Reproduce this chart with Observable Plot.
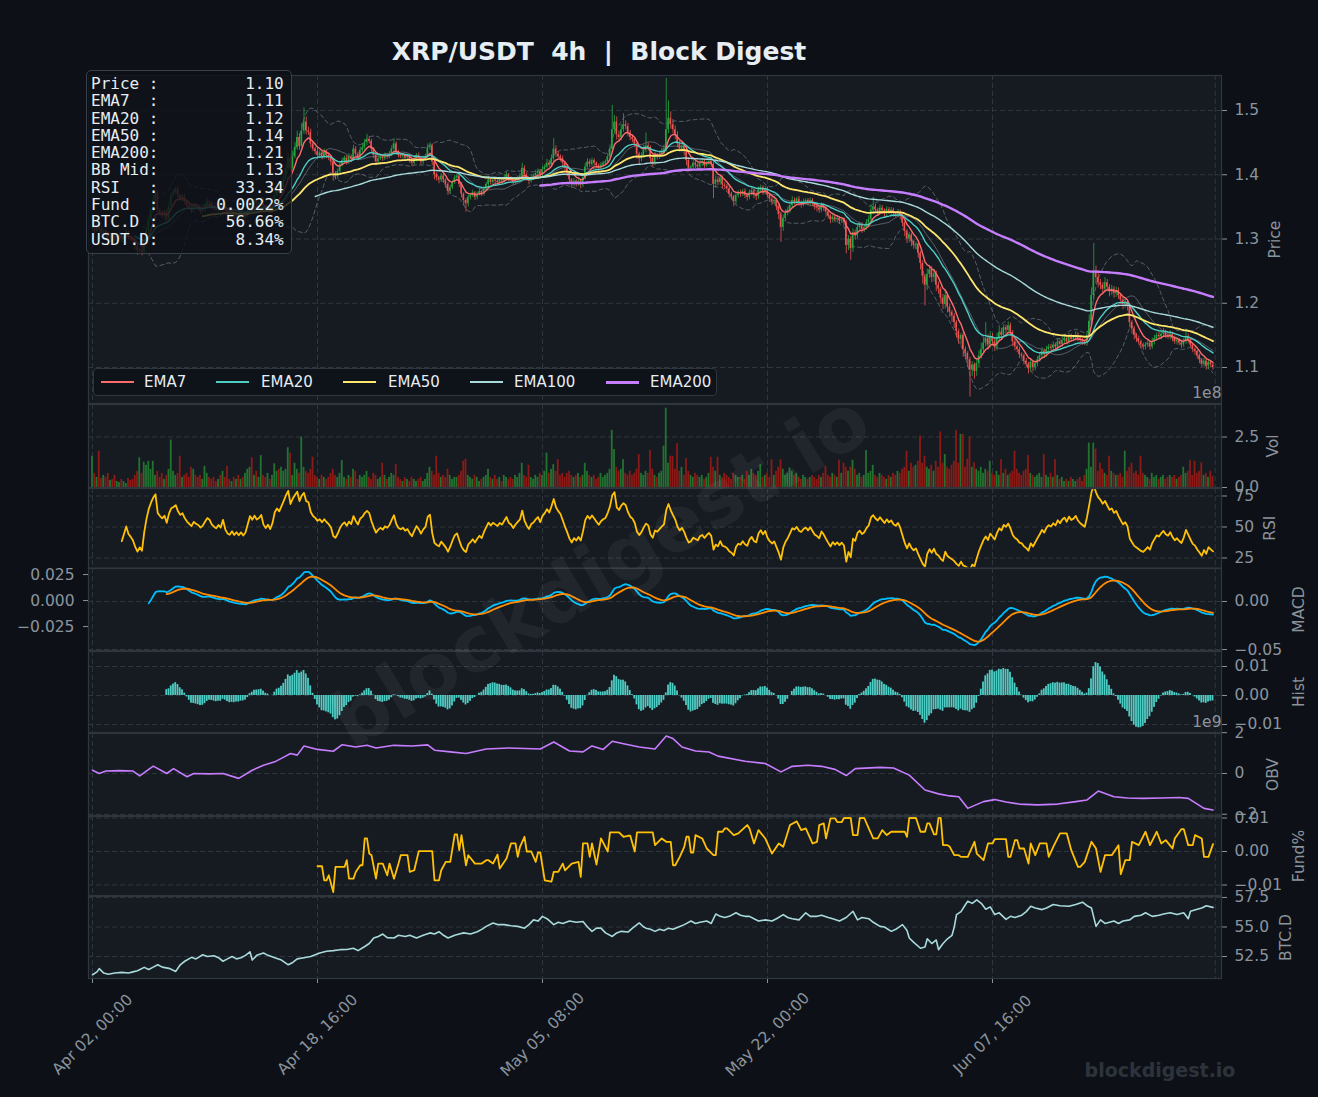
<!DOCTYPE html>
<html>
<head>
<meta charset="utf-8">
<script src="https://cdn.jsdelivr.net/npm/d3@7"></script>
<script src="https://cdn.jsdelivr.net/npm/@observablehq/plot@0.6"></script>
<style>
  html, body { margin: 0; padding: 0; background: #0d1117; }
  #root { position: relative; width: 1318px; height: 1097px; overflow: hidden; background: #0d1117; font-family: "DejaVu Sans", sans-serif; }
  #root svg { position: absolute; left: 0; overflow: visible; }
  .title { position: absolute; top: 37px; left: 0; width: 1198px; text-align: center; color: #e6edf3; font: bold 25px/30px "DejaVu Sans", sans-serif; white-space: pre; }
  .info { position: absolute; left: 86px; top: 70px; width: 206px; height: 184px; box-sizing: border-box; border: 1.5px solid #3a4049; border-radius: 5px; background: rgba(13,17,23,0.82); color: #e6edf3; font: 16px/17.3px "DejaVu Sans Mono", monospace; white-space: pre; padding: 4px 0 0 4px; }
  .legend { position: absolute; left: 93px; top: 368px; width: 624px; height: 28px; box-sizing: border-box; border: 1px solid #30363d; border-radius: 4px; background: rgba(13,17,23,0.85); color: #e6edf3; font: 15px "DejaVu Sans", sans-serif; }
  .legend .sw { position: absolute; top: 12px; width: 33px; height: 2px; }
  .legend .tx { position: absolute; top: 4px; line-height: 18px; }
  .wm { position: absolute; left: 600px; top: 570px; transform: translate(-50%, -50%) rotate(-31deg); font: bold 77px "DejaVu Sans", sans-serif; color: rgba(255,255,255,0.05); white-space: nowrap; pointer-events: none; }
  .wm2 { position: absolute; left: 1060px; width: 200px; top: 1059px; text-align: center; font: bold 19px "DejaVu Sans", sans-serif; color: #2d333b; }
</style>
</head>
<body>
<div id="root"></div>
<script>
// ---------------- DATA ----------------
const startUTC = "2025-04-02T00:00:00Z";      // first 4h candle
const xTickDates = ["2025-04-02T00:00:00Z", "2025-04-18T16:00:00Z", "2025-05-05T08:00:00Z", "2025-05-22T00:00:00Z", "2025-06-07T16:00:00Z"];
const title = "XRP/USDT  4h  |  Block Digest";

// 4h closes, one row per day (Apr 02 ... Jun 23) + last candle
const close = [
1.318,1.312,1.320,1.315,1.308,1.312, 1.305,1.300,1.306,1.302,1.296,1.301,
1.307,1.299,1.304,1.310,1.303,1.300, 1.296,1.288,1.281,1.284,1.279,1.295,
1.312,1.330,1.345,1.360,1.372,1.345, 1.340,1.336,1.342,1.330,1.352,1.368,
1.372,1.378,1.368,1.362,1.366,1.358, 1.352,1.348,1.344,1.352,1.349,1.347,
1.343,1.346,1.352,1.358,1.356,1.350, 1.347,1.345,1.349,1.346,1.356,1.344,
1.338,1.336,1.340,1.335,1.338,1.334, 1.337,1.333,1.336,1.345,1.356,1.352,
1.358,1.354,1.356,1.360,1.350,1.346, 1.350,1.345,1.352,1.368,1.375,1.372,
1.382,1.394,1.410,1.426,1.410,1.428, 1.442,1.458,1.444,1.468,1.482,1.468,
1.466,1.448,1.440,1.436,1.430,1.434, 1.428,1.435,1.430,1.426,1.420,1.402,
1.398,1.405,1.415,1.422,1.426,1.420, 1.428,1.424,1.440,1.432,1.426,1.438,
1.442,1.450,1.455,1.452,1.440,1.430, 1.420,1.425,1.428,1.425,1.430,1.428,
1.432,1.440,1.448,1.436,1.430,1.428, 1.430,1.426,1.428,1.422,1.418,1.424,
1.430,1.426,1.420,1.425,1.428,1.442, 1.445,1.420,1.400,1.395,1.392,1.398,
1.392,1.385,1.374,1.380,1.388,1.395, 1.398,1.385,1.370,1.360,1.355,1.365,
1.368,1.372,1.365,1.370,1.374,1.370, 1.378,1.385,1.392,1.388,1.392,1.390,
1.388,1.392,1.390,1.395,1.400,1.394, 1.392,1.388,1.392,1.395,1.398,1.410,
1.400,1.394,1.390,1.396,1.398,1.402, 1.405,1.400,1.408,1.412,1.418,1.415,
1.425,1.440,1.432,1.428,1.425,1.418, 1.410,1.402,1.392,1.385,1.390,1.386,
1.390,1.384,1.395,1.412,1.420,1.416, 1.422,1.418,1.414,1.410,1.415,1.418,
1.420,1.428,1.440,1.470,1.482,1.462, 1.458,1.470,1.478,1.475,1.465,1.458,
1.455,1.448,1.432,1.425,1.430,1.438, 1.445,1.442,1.425,1.418,1.430,1.428,
1.432,1.436,1.440,1.470,1.488,1.478, 1.470,1.462,1.448,1.440,1.445,1.436,
1.422,1.410,1.412,1.418,1.415,1.412, 1.418,1.420,1.414,1.418,1.421,1.416,
1.385,1.392,1.388,1.395,1.384,1.382, 1.378,1.370,1.366,1.358,1.368,1.372,
1.370,1.374,1.368,1.365,1.372,1.375, 1.368,1.366,1.376,1.380,1.374,1.378,
1.368,1.362,1.358,1.360,1.350,1.338, 1.318,1.332,1.340,1.345,1.352,1.360,
1.358,1.362,1.356,1.354,1.358,1.360, 1.356,1.360,1.355,1.350,1.348,1.345,
1.352,1.348,1.342,1.336,1.330,1.334, 1.330,1.332,1.328,1.330,1.326,1.290,
1.300,1.285,1.310,1.305,1.318,1.322, 1.315,1.318,1.325,1.330,1.345,1.350,
1.345,1.342,1.348,1.344,1.340,1.346, 1.342,1.345,1.340,1.338,1.342,1.336,
1.325,1.312,1.300,1.306,1.296,1.290, 1.292,1.278,1.262,1.242,1.228,1.245,
1.252,1.240,1.246,1.228,1.222,1.208, 1.198,1.212,1.194,1.186,1.180,1.170,
1.156,1.144,1.150,1.128,1.122,1.112, 1.096,1.104,1.094,1.106,1.118,1.128,
1.138,1.145,1.135,1.148,1.140,1.132, 1.145,1.155,1.150,1.162,1.158,1.165,
1.155,1.140,1.132,1.128,1.120,1.118, 1.110,1.105,1.098,1.108,1.100,1.106,
1.112,1.118,1.125,1.120,1.128,1.132, 1.130,1.135,1.132,1.140,1.136,1.142,
1.145,1.140,1.148,1.144,1.146,1.150, 1.145,1.142,1.140,1.138,1.150,1.172,
1.212,1.250,1.240,1.232,1.228,1.222, 1.232,1.225,1.218,1.222,1.215,1.220,
1.212,1.205,1.198,1.202,1.195,1.170, 1.160,1.150,1.145,1.140,1.135,1.132,
1.135,1.138,1.132,1.140,1.145,1.150, 1.148,1.152,1.155,1.150,1.148,1.152,
1.145,1.140,1.142,1.138,1.135,1.140, 1.148,1.142,1.135,1.128,1.125,1.118,
1.112,1.105,1.110,1.102,1.108,1.104,
1.100
];

// upper / lower wick beyond the body, in thousandths of a dollar
const upWick = [
4,3,5,2,4,3, 3,5,2,4,3,2, 4,2,3,5,3,2, 3,2,4,3,2,6, 5,6,4,7,8,3, 3,4,2,5,6,4,
5,3,4,2,3,4, 3,2,4,3,2,3, 2,4,3,5,3,2, 3,2,4,3,6,2, 2,3,4,2,3,2, 3,2,4,5,4,3,
4,3,2,4,3,2, 3,4,5,6,4,3, 5,6,7,8,6,9, 8,10,6,12,22,8, 6,5,4,3,5,4, 4,5,3,4,3,2,
3,4,5,4,3,4, 5,3,6,4,3,5, 6,5,8,4,3,2, 3,4,3,2,4,3, 4,5,8,3,2,3, 3,2,4,3,2,4,
3,4,2,3,4,6, 5,3,2,3,2,4, 3,2,3,4,3,4, 3,2,3,2,3,4, 3,4,2,3,4,2, 4,3,5,3,4,3,
3,4,3,5,4,2, 3,2,4,3,4,8, 4,3,2,4,3,5, 4,3,5,4,6,4, 6,16,5,4,3,4, 3,4,3,2,4,3,
3,2,5,6,5,4, 4,3,2,3,4,3, 3,5,6,38,10,8, 6,8,17,6,5,4, 4,3,2,3,4,8, 20,5,3,4,5,3,
4,5,6,80,27,10, 8,6,5,4,6,4, 3,4,3,5,4,3, 4,3,4,3,4,3, 4,6,5,4,3,4, 3,4,3,2,4,3,
4,3,4,3,4,5, 3,4,5,4,3,4, 3,2,3,4,2,3, 4,5,6,5,4,6, 4,3,4,3,4,3, 3,4,3,2,3,3,
4,3,2,3,2,4, 3,4,3,2,3,3, 5,4,6,4,5,4, 3,4,5,6,8,15, 4,3,5,4,3,4, 3,4,3,2,4,3,
3,2,3,4,3,2, 3,2,3,4,3,8, 6,5,7,4,5,3, 6,8,4,5,3,4, 3,4,3,5,4,3, 4,5,3,6,8,10,
8,25,6,8,5,4, 8,10,6,5,4,6, 4,3,4,3,4,3, 3,4,3,5,3,4, 5,4,6,4,5,4, 4,5,3,5,4,5,
4,3,5,4,3,6, 4,3,4,3,6,10, 12,43,8,6,5,4, 8,5,4,6,4,5, 4,3,4,5,3,2, 3,4,3,4,3,3,
4,5,3,6,5,4, 5,4,6,3,4,5, 3,4,5,3,4,5, 12,4,3,2,3,2, 3,2,4,3,4,3,
2
];
const dnWick = [
3,4,2,5,3,4, 4,3,5,3,4,3, 3,5,4,2,4,3, 4,5,6,4,5,3, 3,4,3,4,3,6, 5,4,6,5,3,3,
3,4,5,3,4,5, 4,3,5,4,3,4, 5,3,4,3,4,5, 4,3,5,4,3,6, 4,5,3,4,5,4, 3,4,5,3,3,4,
3,4,3,2,5,4, 3,5,4,3,3,4, 3,4,3,4,5,3, 3,4,6,4,5,6, 5,6,4,5,6,4, 5,4,5,4,6,12,
6,5,4,3,4,5, 4,5,3,5,4,3, 3,4,5,4,6,5, 6,4,3,4,3,4, 3,4,3,5,4,3, 4,5,3,4,5,3,
4,3,5,4,3,4, 4,6,8,5,6,4, 5,6,6,4,3,3, 4,5,6,8,13,5, 4,3,5,4,3,4, 3,4,3,4,3,4,
4,3,5,3,4,5, 4,5,3,4,3,4, 5,4,6,3,4,3, 4,5,3,4,3,4, 3,4,5,4,5,6, 6,5,7,6,4,5,
4,6,4,3,4,5, 4,5,4,6,4,3, 4,3,4,5,6,8, 6,5,4,5,6,5, 5,6,8,10,5,4, 4,5,6,6,4,5,
4,3,4,5,6,7, 6,7,6,5,6,7, 8,6,5,4,5,4, 4,5,4,3,4,5, 22,6,5,4,6,5, 5,6,5,8,5,4,
5,4,5,6,4,5, 5,6,4,5,6,5, 4,5,6,5,6,8, 23,6,5,4,5,4, 5,4,5,6,4,5, 4,5,4,5,6,5,
4,5,6,5,6,5, 5,4,5,4,5,13, 8,18,6,7,5,4, 6,5,4,5,4,3, 5,6,4,5,6,5, 4,5,6,5,4,6,
6,8,7,6,8,6, 7,8,10,12,32,8, 6,8,7,10,8,9, 8,7,9,8,10,9, 10,8,9,12,10,12, 42,10,12,8,6,5,
5,6,8,5,6,7, 6,5,7,5,6,5, 6,7,6,5,6,5, 6,5,8,5,7,5, 5,4,5,6,4,5, 5,4,5,4,5,4,
4,5,4,5,4,5, 5,4,5,4,5,4, 6,8,10,8,7,8, 6,7,8,6,7,6, 6,7,8,6,7,8, 8,7,6,5,6,5,
5,4,5,4,5,4, 4,5,4,5,4,5, 5,4,5,4,5,4, 4,5,4,5,6,5, 6,5,4,6,5,4,
4
];

// volume per candle (x 1e8)
const vol = [
1.55,0.7,0.5,1.8,0.45,0.6, 0.5,0.7,0.35,0.4,0.6,0.3, 0.25,0.4,0.3,0.2,0.45,0.35,
0.4,0.6,0.8,1.47,0.7,1.25, 1.1,1.3,0.9,1.3,0.6,0.8, 0.5,0.7,0.4,0.6,0.9,2.35,
0.8,0.6,0.7,1.55,0.5,0.6, 0.7,0.5,1.0,0.9,0.6,0.5, 0.6,0.4,1.05,0.7,0.5,0.4,
0.5,0.3,0.4,0.6,0.8,0.5, 1.05,0.4,0.3,0.5,0.4,0.6, 0.4,0.5,0.7,0.9,1.0,1.47,
0.6,0.8,0.5,1.58,0.6,0.5, 0.7,0.4,0.6,1.17,0.8,0.9, 1.0,0.8,0.9,1.97,1.7,0.6,
1.2,0.9,0.7,2.5,1.0,0.8, 0.7,0.9,1.5,0.6,0.5,0.4, 0.6,0.5,0.4,0.5,0.7,0.9,
0.6,0.5,0.7,1.33,0.5,0.4, 0.6,0.5,0.9,0.8,0.4,0.6, 0.5,0.6,0.8,0.5,0.4,0.7,
0.6,0.4,0.5,1.2,0.6,0.4, 0.5,0.7,0.6,1.13,0.5,0.4, 0.3,0.5,0.4,0.3,0.5,0.4,
0.3,0.4,0.5,0.3,0.4,0.7, 1.0,0.8,0.6,1.55,0.7,0.5, 0.6,0.5,0.9,0.6,0.4,0.5,
0.5,0.6,0.8,1.3,1.4,0.6, 0.5,0.4,0.6,0.5,0.3,0.4, 0.5,0.6,0.9,0.5,0.4,0.6,
0.4,0.5,0.3,0.6,0.5,0.4, 0.5,0.4,0.6,0.5,0.7,1.2, 0.6,0.5,1.1,0.5,0.4,0.6,
0.5,0.7,0.6,0.8,1.7,0.7, 0.9,1.13,0.8,1.38,0.6,0.7, 0.5,0.7,0.8,0.6,0.5,0.6,
0.7,0.5,0.6,1.2,0.8,0.6, 0.5,0.6,0.4,0.5,0.7,0.5, 0.6,0.7,0.9,2.83,1.88,1.0,
0.8,0.9,1.38,0.7,0.6,0.8, 0.6,0.7,0.9,1.63,0.7,0.6, 0.8,0.7,1.83,0.9,0.6,0.5,
0.7,0.8,2.05,3.93,1.2,1.55, 1.55,0.9,2.17,0.8,1.0,0.6, 1.43,0.8,0.6,0.5,0.7,0.6,
0.5,0.6,0.4,0.5,0.7,1.5, 1.0,0.8,1.5,0.6,0.5,0.7, 0.6,0.5,0.4,0.7,0.6,0.5,
0.5,0.6,0.4,0.8,0.6,0.9, 0.7,0.6,0.8,1.13,0.5,0.6, 0.7,0.5,1.38,0.6,0.8,1.0,
1.38,0.9,0.6,0.7,0.97,0.8, 0.6,0.7,0.5,0.4,0.6,0.5, 0.4,0.5,0.6,0.5,0.4,0.6,
0.5,0.7,1.05,0.6,0.5,0.7, 0.6,0.5,1.35,0.7,1.2,1.0, 0.8,1.0,1.35,0.9,0.6,0.7,
0.5,0.6,1.83,0.7,0.8,1.1, 0.6,0.5,0.7,0.6,0.5,0.4, 0.6,0.5,0.7,0.6,0.8,0.7,
0.9,1.0,1.8,0.8,1.2,1.0, 1.1,1.3,2.55,1.2,1.55,1.0, 0.9,1.1,0.8,1.3,1.0,2.75,
1.2,1.63,1.0,0.9,1.1,1.3, 2.83,1.2,2.63,2.63,1.0,1.4, 2.5,1.0,1.22,0.9,0.8,1.0,
0.7,0.9,0.8,1.3,0.7,0.6, 0.8,0.6,1.38,0.7,0.9,0.6, 0.7,0.8,1.8,0.9,0.7,0.6,
0.8,0.9,1.58,0.7,0.6,0.5, 0.6,0.7,0.5,1.63,0.6,0.5, 0.7,0.5,1.38,0.6,0.4,0.5,
0.3,0.4,0.3,0.5,0.4,0.3, 0.4,0.5,0.3,0.6,0.9,2.2, 1.0,2.2,1.9,0.8,1.2,0.9,
0.7,0.6,1.55,0.8,0.7,0.6, 0.6,0.7,0.5,1.8,0.8,1.0, 1.2,0.7,0.8,0.6,1.55,0.7,
0.6,0.5,0.4,0.7,0.5,0.6, 0.4,0.5,0.6,0.4,0.5,0.6, 0.5,0.6,0.4,0.5,0.6,1.0,
0.7,0.8,1.33,0.6,1.3,0.7, 0.8,1.22,0.6,0.7,0.5,0.8,
0.55
];

// OBV (x 1e9) at [candle index, value]
const obv = [[0,0.16],[3,0.0],[6,0.12],[12,0.14],[18,0.12],[21,-0.12],[27,0.36],[33,0.0],[36,0.24],[42,-0.16],[45,0.0],[52,-0.02],[58,0.0],[65,-0.24],[71,0.16],[76,0.4],[81,0.57],[85,0.8],[88,0.98],[91,0.9],[94,1.35],[100,1.18],[107,1.09],[111,1.41],[117,1.3],[122,1.38],[126,1.25],[134,1.38],[142,1.35],[149,1.4],[152,1.14],[159,1.06],[166,0.98],[175,1.2],[185,1.25],[199,1.2],[205,1.54],[212,1.1],[218,1.06],[222,1.35],[227,1.18],[231,1.58],[236,1.46],[243,1.3],[250,1.2],[255,1.84],[258,1.71],[262,1.3],[268,1.1],[274,1.05],[278,0.85],[290,0.6],[299,0.49],[306,0.08],[311,0.35],[318,0.4],[324,0.35],[330,0.2],[335,-0.1],[339,0.24],[350,0.3],[356,0.27],[363,-0.08],[370,-0.81],[376,-1.0],[381,-1.1],[385,-1.14],[389,-1.71],[396,-1.38],[401,-1.28],[406,-1.4],[412,-1.5],[420,-1.54],[429,-1.5],[437,-1.38],[442,-1.3],[447,-0.86],[454,-1.14],[460,-1.2],[467,-1.22],[475,-1.2],[483,-1.18],[487,-1.22],[494,-1.71],[498,-1.79]];

// Funding rate (units of 0.0001 %) at [candle index, value]
const fund = [[100,-44],[102,-44],[103,-86],[104,-86],[105,-71],[107,-121],[108,-46],[112,-46],[113,-26],[114,-81],[116,-81],[117,-61],[119,-41],[120,-41],[121,39],[122,39],[123,-6],[124,-11],[126,-81],[127,-36],[129,-36],[131,-71],[132,-36],[134,-81],[136,-36],[137,-11],[140,-11],[141,-61],[143,-56],[145,1],[151,1],[152,-86],[154,-86],[155,-56],[157,-31],[159,-31],[161,51],[162,51],[163,4],[164,49],[166,-41],[167,-11],[170,-36],[173,-36],[175,-26],[176,-26],[178,-36],[180,-9],[181,-51],[184,-21],[186,24],[188,24],[189,-16],[190,14],[192,44],[193,0],[195,0],[197,-31],[198,-3],[199,-3],[201,-86],[204,-90],[205,-61],[207,-61],[209,-36],[210,-56],[213,-36],[216,-31],[217,-76],[218,24],[220,24],[221,-16],[222,24],[224,-39],[226,39],[229,0],[230,57],[234,57],[236,44],[238,47],[239,47],[241,0],[242,57],[249,57],[250,19],[253,39],[255,29],[257,29],[258,-41],[259,-41],[261,-16],[263,14],[264,44],[265,44],[266,-3],[267,-3],[268,49],[271,39],[273,9],[276,-11],[277,-11],[278,59],[280,59],[281,69],[282,69],[285,49],[287,54],[291,79],[292,69],[294,24],[296,64],[299,39],[302,-6],[305,24],[307,14],[310,79],[313,90],[315,64],[317,69],[320,24],[322,29],[323,79],[325,84],[326,39],[328,99],[330,99],[331,88],[333,88],[334,100],[337,100],[338,49],[340,49],[341,100],[343,100],[345,69],[347,39],[349,39],[351,64],[353,49],[355,59],[361,59],[362,44],[363,100],[366,100],[368,59],[370,59],[371,84],[372,84],[374,51],[375,51],[376,100],[377,100],[378,19],[380,19],[381,14],[383,-11],[385,-11],[386,-16],[389,-16],[392,29],[393,-6],[396,-26],[398,24],[400,24],[401,37],[406,37],[407,-16],[408,-16],[410,34],[411,34],[412,9],[414,9],[416,-36],[417,24],[419,-11],[421,24],[424,24],[425,-16],[427,14],[430,54],[433,54],[435,4],[438,-46],[439,-46],[441,-31],[444,29],[446,9],[448,-61],[450,-11],[453,-11],[456,19],[457,-68],[459,-26],[461,-26],[462,29],[465,19],[468,59],[470,19],[473,59],[475,24],[477,34],[480,9],[481,39],[484,67],[485,67],[487,19],[489,19],[490,49],[493,39],[494,-16],[496,-16],[498,22]];

// BTC dominance (%) at [candle index, value]
const btcd = [[0,50.96],[2,51.2],[3,51.47],[5,51.1],[7,51.0],[10,51.1],[13,51.16],[16,51.1],[18,51.2],[20,51.3],[23,51.58],[25,51.4],[27,51.6],[29,51.8],[31,51.6],[34,51.5],[37,51.24],[39,51.8],[41,52.1],[44,52.43],[46,52.3],[49,52.65],[51,52.5],[54,52.57],[56,52.4],[58,52.1],[60,52.3],[62,52.5],[64,52.3],[66,52.4],[68,52.6],[70,52.9],[71,52.2],[73,52.6],[76,52.8],[78,52.6],[81,52.4],[84,52.2],[87,51.8],[89,52.0],[91,52.3],[94,52.4],[97,52.5],[99,52.65],[101,52.8],[104,52.94],[107,53.0],[110,53.08],[113,53.1],[116,53.2],[118,53.0],[121,53.35],[123,53.6],[125,54.07],[127,54.2],[129,54.4],[131,54.1],[134,54.07],[136,54.3],[139,54.2],[141,54.3],[144,54.07],[147,54.3],[150,54.5],[152,54.4],[154,54.6],[156,54.3],[158,54.07],[161,54.3],[163,54.4],[165,54.5],[168,54.4],[171,54.6],[173,54.8],[175,55.05],[178,55.34],[180,55.2],[183,55.2],[186,55.1],[189,55.05],[192,54.9],[194,55.2],[196,55.6],[198,55.5],[200,55.9],[202,55.7],[205,55.2],[207,55.4],[209,55.3],[212,55.5],[215,55.4],[218,55.46],[220,55.0],[222,54.63],[224,54.9],[226,54.9],[228,54.5],[231,54.2],[233,54.5],[235,54.63],[238,54.57],[240,54.9],[243,55.34],[245,55.0],[246,54.9],[248,54.8],[250,54.63],[252,54.8],[254,54.7],[256,54.9],[258,54.8],[261,55.05],[263,55.2],[266,55.5],[268,55.3],[270,55.4],[273,55.5],[275,55.3],[277,56.1],[279,55.9],[281,55.8],[283,55.9],[286,56.2],[288,56.0],[290,55.9],[292,55.9],[294,55.7],[296,55.5],[299,55.6],[302,55.5],[304,55.7],[307,56.05],[309,55.8],[311,55.7],[314,55.6],[317,56.2],[319,55.9],[322,55.9],[324,56.0],[327,55.8],[329,55.7],[332,55.5],[335,55.8],[338,56.33],[340,55.6],[342,55.8],[345,55.7],[347,55.4],[350,55.05],[352,55.0],[355,54.63],[357,54.8],[360,55.2],[362,54.7],[363,54.07],[365,53.7],[368,53.2],[370,53.3],[371,54.0],[373,53.6],[375,53.9],[376,53.08],[378,53.6],[380,54.0],[382,54.3],[383,55.0],[384,56.05],[386,56.3],[388,56.9],[389,57.18],[391,57.0],[393,57.3],[395,57.0],[397,56.5],[399,56.7],[401,56.05],[403,56.2],[406,55.65],[408,55.9],[410,55.8],[413,56.0],[415,56.3],[417,56.75],[419,56.6],[422,56.47],[424,56.6],[427,56.9],[430,56.8],[434,56.75],[437,56.9],[440,57.1],[442,56.8],[444,56.6],[446,55.05],[448,55.6],[450,55.3],[452,55.4],[454,55.5],[456,55.3],[458,55.5],[461,55.6],[463,55.9],[466,56.0],[468,56.2],[471,55.9],[474,56.0],[476,56.1],[479,56.2],[482,56.05],[485,56.2],[487,55.7],[488,56.33],[491,56.5],[493,56.6],[495,56.8],[497,56.7],[498,56.66]];

// info panel text
const infoLabels = ["Price", "EMA7", "EMA20", "EMA50", "EMA200", "BB Mid", "RSI", "Fund", "BTC.D", "USDT.D"];
const infoValues = ["1.10", "1.11", "1.12", "1.14", "1.21", "1.13", "33.34", "0.0022%", "56.66%", "8.34%"];
const emaSpans = [7, 20, 50, 100, 200];

// axis ticks
const priceTicks = [1.1, 1.2, 1.3, 1.4, 1.5];
const volTicks = [0, 2.5];
const rsiTicks = [25, 50, 75];
const macdTicks = [-0.05, 0];
const macdLeftTicks = [-0.025, 0, 0.025];
const histTicks = [-0.01, 0, 0.01];
const obvTicks = [-2, 0, 2];
const fundTicks = [-0.01, 0, 0.01];
const btcdTicks = [52.5, 55, 57.5];

// ---------------- STYLE / LAYOUT ----------------
const PANEL = "#161b22", GRID = "#30363d", SPINE = "#30363d", TICK = "#8b949e";
const UP = "#26a641", DN = "#ef5350", VUP = "#237330", VDN = "#8c1a16";
const emaColor = {7: "#ff6b6b", 20: "#4ecdc4", 50: "#ffe66d", 100: "#a8dadc", 200: "#c77dff"};
const emaWidth = {7: 1.4, 20: 1.4, 50: 1.8, 100: 1.4, 200: 2.4};
const legendSwatchLeft = [7, 122, 249, 376, 512];   // px inside the legend box
const legendTextLeft = [50, 167, 294, 420, 556];
const FS = 15.5;
const layout = {
  price: {top: 75,  h: 328, domain: [1.044, 1.5545]},
  vol:   {top: 403.5, h: 83, domain: [0, 4.11]},
  rsi:   {top: 487.5, h: 79.5, domain: [16.9, 81.05]},
  macd:  {top: 568, h: 82, domain: [-0.051, 0.0344], left: [-0.048, 0.0308]},
  hist:  {top: 651, h: 81, domain: [-0.01276, 0.01517]},
  obv:   {top: 733, h: 82, domain: [-2.06, 1.96]},
  fund:  {top: 816, h: 79, domain: [-0.01313, 0.01045]},
  btcd:  {top: 896, h: 82, domain: [50.64, 57.58]}
};

// ---------------- DERIVED ----------------
const N = close.length;
if ([upWick.length, dnWick.length, vol.length].some(n => n !== N)) {
  document.body.insertAdjacentHTML("afterbegin", `<pre style="color:red">length mismatch ${N} ${upWick.length} ${dnWick.length} ${vol.length}</pre>`);
}
const HOUR = 3600e3;
const t0 = Date.parse(startUTC);
const T = i => new Date(t0 + i * 4 * HOUR);
const xDomain = [new Date(t0 - 7.1 * HOUR), new Date(t0 + 2007.1 * HOUR)];
const xTicks = xTickDates.map(s => new Date(s));
const xGrid = [...xTicks, T(499)];

const candles = close.map((c, i) => {
  const o = i === 0 ? c : close[i - 1];
  return {t: T(i), o, c, hi: Math.max(o, c) + upWick[i] / 1000, lo: Math.min(o, c) - dnWick[i] / 1000, up: c >= o, vol: vol[i] ?? 0};
});

function ema(src, n, minP = n) {
  const a = 2 / (n + 1); let e = null, cnt = 0;
  return src.map(v => {
    if (v == null) return null;
    e = e == null ? v : a * v + (1 - a) * e; cnt++;
    return cnt >= minP ? e : null;
  });
}
const series = arr => arr.map((v, i) => ({t: T(i), v: v == null ? NaN : v}));
const emas = Object.fromEntries(emaSpans.map(n => [n, series(ema(close, n))]));
const sma20 = close.map((_, i) => i < 19 ? null : d3.mean(close.slice(i - 19, i + 1)));
const sd20 = close.map((_, i) => i < 19 ? null : d3.deviation(close.slice(i - 19, i + 1)));
const bbU = series(sma20.map((m, i) => m == null ? null : m + 2 * sd20[i]));
const bbL = series(sma20.map((m, i) => m == null ? null : m - 2 * sd20[i]));
const bbM = series(sma20);

// RSI(14), exponentially weighted (adjusted) averages
const rsiArr = [null];
{ const a = 1 / 14; let ng = 0, nl = 0, den = 0;
  for (let i = 1; i < N; i++) {
    const d = close[i] - close[i - 1];
    ng = Math.max(d, 0) + (1 - a) * ng; nl = Math.max(-d, 0) + (1 - a) * nl; den = 1 + (1 - a) * den;
    const g = ng / den, l = nl / den;
    rsiArr.push(i >= 13 ? (l === 0 ? 100 : 100 - 100 / (1 + g / l)) : null);
  } }
const rsi = series(rsiArr);

const e12 = ema(close, 12), e26 = ema(close, 26);
const macdArr = close.map((_, i) => e12[i] == null || e26[i] == null ? null : e12[i] - e26[i]);
const sigArr = ema(macdArr, 9);
const macd = series(macdArr), signal = series(sigArr);
const hist = macdArr.map((m, i) => ({t: T(i), v: m == null || sigArr[i] == null ? null : m - sigArr[i]})).filter(d => d.v != null);

const obvS = obv.map(([i, v]) => ({t: T(i), v}));
const fundS = fund.map(([i, v]) => ({t: T(i), v: v / 10000}));
const btcdS = btcd.map(([i, v]) => ({t: T(i), v}));

// ---------------- RENDER ----------------
const root = document.getElementById("root");
const style = {background: "transparent", color: TICK, fontFamily: "DejaVu Sans, sans-serif", fontSize: FS + "px", overflow: "visible"};
const dash = "5,3";
const base = yt => [
  Plot.frame({fill: PANEL, stroke: null}),
  Plot.gridY(yt, {stroke: GRID, strokeOpacity: 1, strokeDasharray: dash, strokeWidth: 1}),
  Plot.gridX(xGrid, {stroke: GRID, strokeOpacity: 1, strokeDasharray: dash, strokeWidth: 1})
];
const yAxis = (yt, fmt) => Plot.axisY(yt, {anchor: "right", tickFormat: fmt, tickSize: 5, tickPadding: 8, color: TICK, fontSize: FS, label: null});
const yLabel = (text, dx) => Plot.text([text], {frameAnchor: "right", dx, rotate: -90, textAnchor: "middle", lineAnchor: "middle", fill: TICK, fontSize: FS});
const offsetText = text => Plot.text([text], {frameAnchor: "top-right", dy: -11, textAnchor: "end", lineAnchor: "middle", fill: TICK, fontSize: FS});
const spine = () => Plot.frame({stroke: SPINE, strokeWidth: 1.2});
const ln = (data, stroke, strokeWidth, extra = {}) => Plot.line(data, {x: "t", y: "v", stroke, strokeWidth, clip: true, ...extra});
const barW = 1.6 * HOUR, bodyW = 1.35 * HOUR;

function panel(key, marks, bottom = 0, xAxisOn = false) {
  const L = layout[key];
  const svg = Plot.plot({
    width: 1318, height: L.h + bottom,
    marginLeft: 88, marginRight: 97, marginTop: 0, marginBottom: bottom,
    x: xAxisOn ? {type: "utc", domain: xDomain} : {type: "utc", domain: xDomain, axis: null},
    y: {domain: L.domain},
    color: {type: "identity"},
    style, marks
  });
  svg.style.top = L.top + "px";
  root.appendChild(svg);
  return svg;
}

// Price
panel("price", [
  ...base(priceTicks),
  ln(bbU, TICK, 0.9, {strokeDasharray: "4,3", strokeOpacity: 0.6}),
  ln(bbL, TICK, 0.9, {strokeDasharray: "4,3", strokeOpacity: 0.6}),
  ln(bbM, TICK, 1, {strokeOpacity: 0.55}),
  Plot.ruleX(candles, {x: "t", y1: "lo", y2: "hi", stroke: d => d.up ? UP : DN, strokeWidth: 0.8, clip: true}),
  Plot.rect(candles, {x1: d => new Date(+d.t - bodyW), x2: d => new Date(+d.t + bodyW), y1: "o", y2: "c", fill: d => d.up ? UP : DN, clip: true}),
  ...emaSpans.map(n => ln(emas[n], emaColor[n], emaWidth[n])),
  yAxis(priceTicks, d3.format(".1f")),
  yLabel("Price", 54),
  spine()
]);

// Volume
panel("vol", [
  ...base(volTicks),
  Plot.rect(candles, {x1: d => new Date(+d.t - barW), x2: d => new Date(+d.t + barW), y1: 0, y2: "vol", fill: d => d.up ? VUP : VDN}),
  yAxis(volTicks, d3.format(".1f")),
  yLabel("Vol", 52),
  offsetText("1e8"),
  spine()
]);

// RSI
panel("rsi", [
  ...base(rsiTicks),
  ln(rsi, "#ffc107", 1.8),
  yAxis(rsiTicks, d3.format("d")),
  yLabel("RSI", 49),
  spine()
]);

// MACD
panel("macd", [
  ...base(macdTicks),
  ln(macd, "#00bfff", 1.8),
  ln(signal, "#ff8c00", 1.8),
  yAxis(macdTicks, d3.format(".2f")),
  yLabel("MACD", 78),
  spine()
]);
{ // left-hand MACD scale
  const L = layout.macd;
  const svg = Plot.plot({
    width: 1318, height: L.h, marginLeft: 88, marginRight: 97, marginTop: 0, marginBottom: 0,
    x: {type: "utc", domain: xDomain, axis: null}, y: {domain: L.left}, style,
    marks: [Plot.axisY(macdLeftTicks, {anchor: "left", tickFormat: d3.format(".3f"), tickSize: 5, tickPadding: 9, color: TICK, fontSize: FS, label: null})]
  });
  svg.style.top = L.top + "px"; root.appendChild(svg);
}

// Histogram
panel("hist", [
  ...base(histTicks),
  Plot.rect(hist, {x1: d => new Date(+d.t - barW), x2: d => new Date(+d.t + barW), y1: 0, y2: "v", fill: "#4ecdc4"}),
  yAxis(histTicks, d3.format(".2f")),
  yLabel("Hist", 78),
  spine()
]);

// OBV
panel("obv", [
  ...base(obvTicks),
  ln(obvS, "#c77dff", 1.6),
  yAxis(obvTicks, d3.format("d")),
  yLabel("OBV", 52),
  offsetText("1e9"),
  spine()
]);

// Funding
panel("fund", [
  ...base(fundTicks),
  ln(fundS, "#ffc107", 1.8),
  yAxis(fundTicks, d3.format(".2f")),
  yLabel("Fund%", 78),
  spine()
]);

// BTC dominance + date axis
const fmtDate = d3.utcFormat("%b %d, %H:%M");
panel("btcd", [
  ...base(btcdTicks),
  ln(btcdS, "#a8dadc", 1.6),
  yAxis(btcdTicks, d3.format(".1f")),
  yLabel("BTC.D", 65),
  Plot.axisX(xTicks, {anchor: "bottom", tickFormat: () => "", tickSize: 5, color: TICK, label: null}),
  Plot.text(xTicks, {x: d => d, text: d => fmtDate(d), frameAnchor: "bottom", dy: 56, rotate: -45, textAnchor: "middle", lineAnchor: "middle", fill: TICK, fontSize: FS}),
  spine()
], 119, true);

// Title, info box, legend, watermarks
const el = (cls, txt, parent = root) => { const d = document.createElement("div"); d.className = cls; if (txt != null) d.textContent = txt; parent.appendChild(d); return d; };
el("title", title);
el("info", infoLabels.map((l, k) => l.padEnd(6) + ":" + infoValues[k].padStart(13)).join("\n"));
const leg = el("legend");
emaSpans.forEach((n, k) => {
  const sw = el("sw", null, leg); sw.style.left = legendSwatchLeft[k] + "px"; sw.style.background = emaColor[n];
  if (n === 200) { sw.style.height = "3px"; sw.style.top = "11.5px"; }
  const tx = el("tx", "EMA" + n, leg); tx.style.left = legendTextLeft[k] + "px";
});
el("wm", "blockdigest.io");
el("wm2", "blockdigest.io");
</script>
</body>
</html>
